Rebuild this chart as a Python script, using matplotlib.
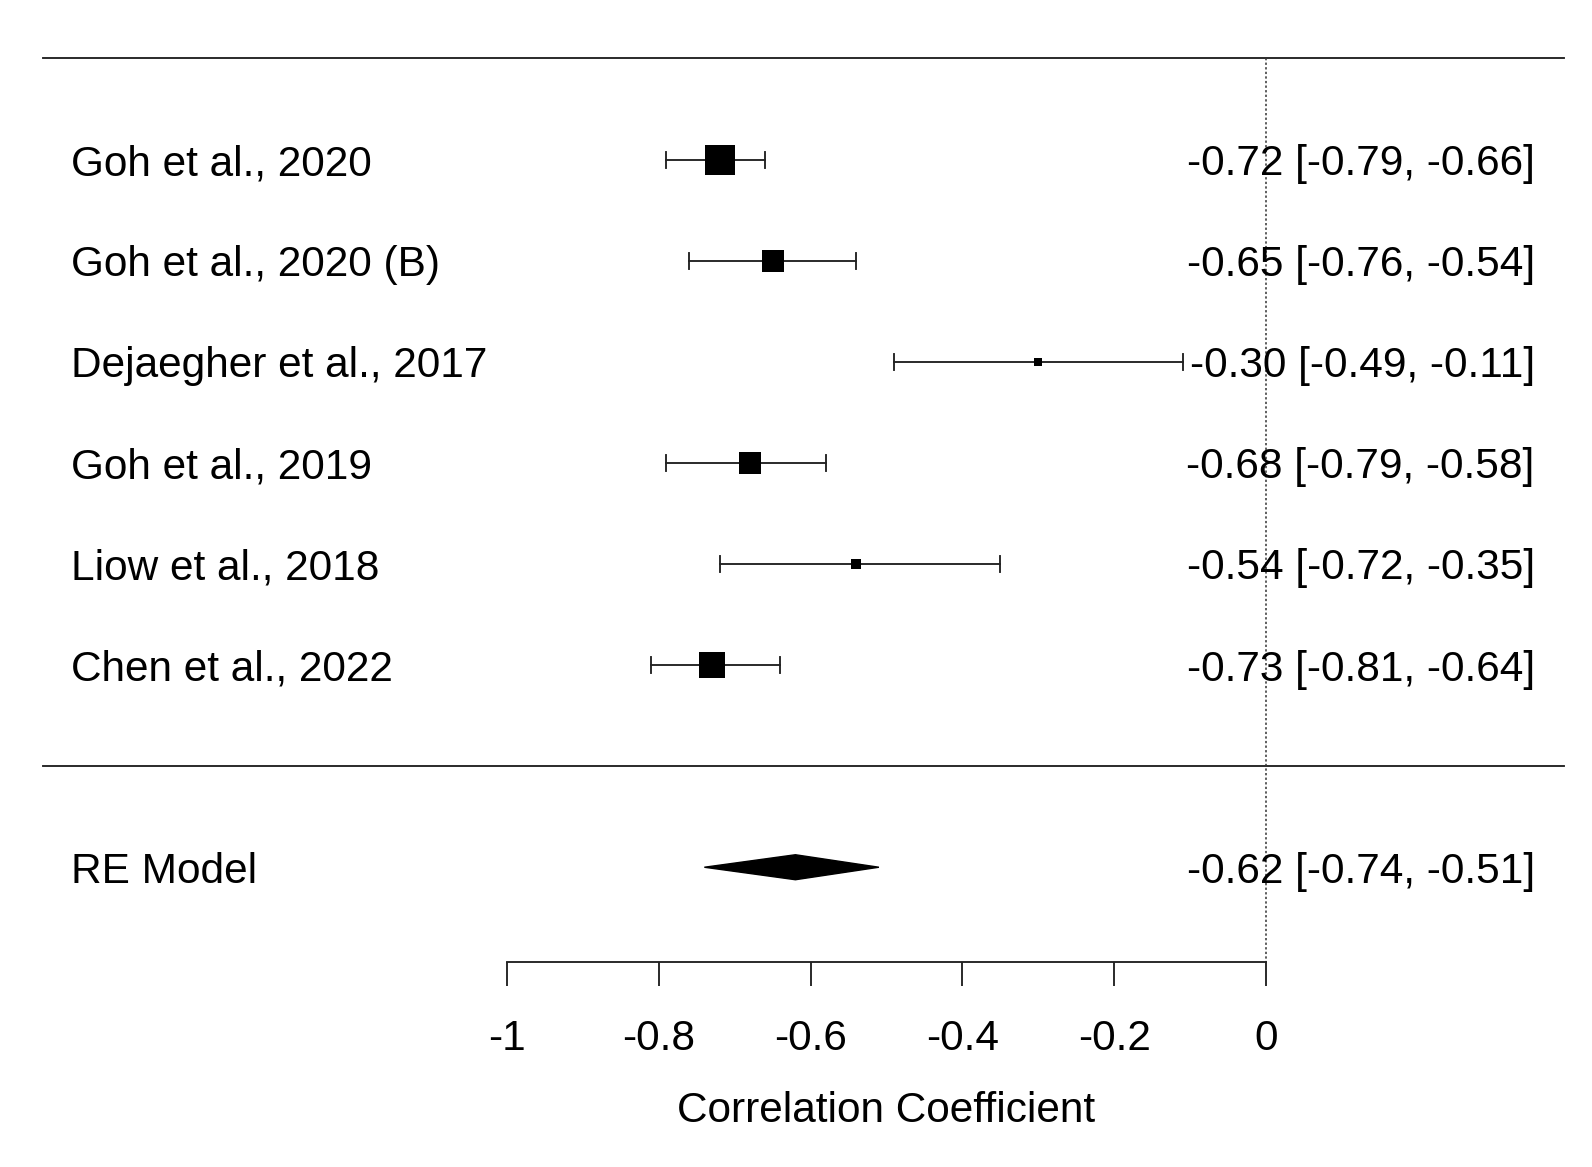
import numpy as np
import matplotlib.pyplot as plt
from matplotlib.patches import Polygon

plt.rcParams['font.family'] = ['Liberation Sans', 'DejaVu Sans']

# Study data
studies = ['Goh et al., 2020', 'Goh et al., 2020 (B)', 'Dejaegher et al., 2017',
           'Goh et al., 2019', 'Liow et al., 2018', 'Chen et al., 2022']
est = [-0.72, -0.65, -0.30, -0.68, -0.54, -0.73]
lo = [-0.79, -0.76, -0.49, -0.79, -0.72, -0.81]
hi = [-0.66, -0.54, -0.11, -0.58, -0.35, -0.64]
weights = [30, 21, 8, 22, 10, 26]  # relative study weights

# Pooled (RE model)
re_est, re_lo, re_hi = -0.62, -0.74, -0.51

xticks = [-1, -0.8, -0.6, -0.4, -0.2, 0]
xticklabels = ['-1', '-0.8', '-0.6', '-0.4', '-0.2', '0']

fs = 30.5
px = 101.1  # pixels per row
lw = 1.35

fig = plt.figure(figsize=(15.92, 11.67), dpi=100)
ax = fig.add_axes([0, 0, 1, 1])
ax.set_xlim(-1.668, 0.4295)
ax.set_ylim(-3.965, 7.578)

k = len(studies)
rows = np.arange(k, 0, -1)

# horizontal rules and reference line
ax.plot([-1.612, 0.393], [7, 7], color='#222222', lw=lw)
ax.plot([-1.612, 0.393], [0, 0], color='#222222', lw=lw)
ax.plot([0, 0], [7, -1.94], color='#333333', lw=1.1, ls=(0, (1.5, 1.5)))

cap = 8 / px
for r, name, e, l, h, w in zip(rows, studies, est, lo, hi, weights):
    ax.plot([l, h], [r, r], color='#222222', lw=lw)
    ax.plot([l, l], [r - cap, r + cap], color='#222222', lw=lw)
    ax.plot([h, h], [r - cap, r + cap], color='#222222', lw=lw)
    ax.plot(e, r, marker='s', color='black', markersize=w * 0.74, markeredgewidth=0)
    ax.text(-1.574, r, name, fontsize=fs, va='center_baseline', ha='left')
    ax.text(0.354, r, f'{e:.2f} [{l:.2f}, {h:.2f}]', fontsize=fs, va='center_baseline', ha='right')

# RE diamond
dh = 12.5 / px
ax.add_patch(Polygon([[re_lo, -1], [re_est, -1 + dh], [re_hi, -1], [re_est, -1 - dh]],
                     closed=True, color='black'))
ax.text(-1.574, -1, 'RE Model', fontsize=fs, va='center_baseline', ha='left')
ax.text(0.354, -1, f'{re_est:.2f} [{re_lo:.2f}, {re_hi:.2f}]', fontsize=fs,
        va='center_baseline', ha='right')

# x axis
for s in ['top', 'right', 'left']:
    ax.spines[s].set_visible(False)
ax.spines['bottom'].set_position(('data', -1.94))
ax.spines['bottom'].set_bounds(-1, 0)
ax.spines['bottom'].set_linewidth(lw)
ax.spines['bottom'].set_color('#222222')
ax.set_yticks([])
ax.set_xticks(xticks)
ax.set_xticklabels(xticklabels)
ax.tick_params(axis='x', direction='out', length=17.3, width=lw, color='#222222',
               pad=23.6, labelsize=fs)
ax.text(-0.5, -3.41, 'Correlation Coefficient', fontsize=fs, ha='center', va='center')

fig.savefig('out.png', dpi=100)
